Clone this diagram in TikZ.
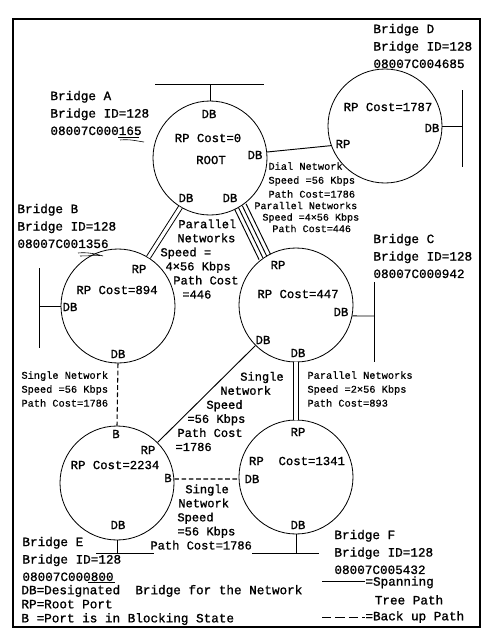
\documentclass[tikz,border=0pt]{standalone}
\usepackage{fontspec}
\newfontfamily\typefont[FakeBold=1.1]{Liberation Mono}
\newfontfamily\smalltype[FakeBold=0.6]{Liberation Mono}
\usetikzlibrary{calc}

\tikzset{
  bridge/.style={circle, draw, line width=0.7pt, minimum size=3.42cm, inner sep=0pt},
  port/.style={font=\typefont\fontsize{10.5}{12}\selectfont, inner sep=0pt},
  idtext/.style={font=\typefont\fontsize{10.8}{14.9}\selectfont, align=left, anchor=west, inner sep=0pt},
  midtext/.style={font=\typefont\fontsize{10.3}{12}\selectfont, align=left, anchor=west, inner sep=0pt},
  linktext/.style={font=\smalltype\fontsize{8.8}{11.9}\selectfont, align=left, anchor=west, inner sep=0pt},
  backup/.style={line width=0.9pt, dash pattern=on 4pt off 2.2pt},
  penmark/.style={line width=0.5pt}
}

\begin{document}
\begin{tikzpicture}[x=0.03cm, y=-0.03cm, line width=0.8pt]
  \useasboundingbox (0,0) rectangle (485,634);
  \draw[line width=1.1pt] (13,19) rectangle (480,627);

  % bridges
  \node[bridge] (A) at (210,158) {};
  \node[bridge] (B) at (118,306) {};
  \node[bridge] (C) at (296,305) {};
  \node[bridge] (D) at (385,126) {};
  \node[bridge] (E) at (117,483) {};
  \node[bridge] (F) at (296,477) {};

  % ports
  \node[port] (A-db1) at (209,114) {DB};
  \node[port] (A-cost) at (208,138) {RP Cost=0};
  \node[port] (A-root) at (211,160) {ROOT};
  \node[port] (A-db2) at (255,155) {DB};
  \node[port] (A-db3) at (186,198) {DB};
  \node[port] (A-db4) at (230,198) {DB};
  \node[port] (D-cost) at (388,107) {RP Cost=1787};
  \node[port] (D-db) at (432,128) {DB};
  \node[port] (D-rp) at (343,144) {RP};
  \node[port] (B-rp) at (139,269) {RP};
  \node[port] (B-cost) at (117,290) {RP Cost=894};
  \node[port] (B-db1) at (70,307) {DB};
  \node[port] (B-db2) at (118,354) {DB};
  \node[port] (C-rp) at (278,265) {RP};
  \node[port] (C-cost) at (298,294) {RP Cost=447};
  \node[port] (C-db1) at (341,312) {DB};
  \node[port] (C-db2) at (263,340) {DB};
  \node[port] (C-db3) at (298,353) {DB};
  \node[port] (E-b1) at (116,434) {B};
  \node[port] (E-rp) at (148,450) {RP};
  \node[port] (E-cost) at (115,465) {RP Cost=2234};
  \node[port] (E-b2) at (168,478) {B};
  \node[port] (E-db) at (118,525) {DB};
  \node[port] (F-rp) at (298,432) {RP};
  \node[port] (F-cost) at (297,461) {RP\ \ Cost=1341};
  \node[port] (F-db1) at (252,479) {DB};
  \node[port] (F-db2) at (298,525) {DB};

  % bridge names
  \node[idtext] (A-id) at (50,113) {Bridge A\\Bridge ID=128\\08007C000165};
  \node[idtext] (B-id) at (17,226) {Bridge B\\Bridge ID=128\\08007C001356};
  \node[idtext] (C-id) at (373,256) {Bridge C\\Bridge ID=128\\08007C000942};
  \node[idtext] (D-id) at (373,46) {Bridge D\\Bridge ID=128\\08007C004685};
  \node[idtext] (E-id) at (22,559) {Bridge E\\Bridge ID=128\\08007C000800};
  \node[idtext] (F-id) at (334,552) {Bridge F\\Bridge ID=128\\08007C005432};
  \draw[penmark] (118,137.5) -- (139,137.5);
  \draw[penmark] (120,140) .. controls (130,139) and (137,141) .. (144,142);
  \draw[penmark] (78,253) .. controls (88,252) and (96,254) .. (103,256);
  \draw[penmark] (80,256) -- (100,255.5);
  \draw[penmark] (88,582) -- (115,582);

  % lans
  \coordinate (A-lan) at (210,84);
  \coordinate (B-lan) at (39,306);
  \coordinate (C-lan) at (374,316);
  \coordinate (D-lan) at (462,126);
  \coordinate (E-lan) at (117,553);
  \coordinate (F-lan) at (296,553);
  \draw (A.north) -- (A-lan);
  \draw (155,84) -- (264,84);
  \draw (B.west) -- (B-lan);
  \draw (39,268) -- (39,348);
  \draw (C.-11) -- (C-lan);
  \draw (374,282) -- (374,362);
  \draw (D.east) -- (D-lan);
  \draw (462,90) -- (462,167);
  \draw (E.south) -- (E-lan);
  \draw (96,553) -- (154,553);
  \draw (F.south) -- (F-lan);
  \draw (252,553) -- (319,553);

  % links
  \draw (A.6) -- (D.200);
  \draw[double, double distance=2.8pt] (A.239) -- (B.58);
  \draw ($(A.302)!5.4pt!90:(C.123)$) -- ($(C.123)!5.4pt!-90:(A.302)$);
  \draw ($(A.302)!1.8pt!90:(C.123)$) -- ($(C.123)!1.8pt!-90:(A.302)$);
  \draw ($(A.302)!-1.8pt!90:(C.123)$) -- ($(C.123)!-1.8pt!-90:(A.302)$);
  \draw ($(A.302)!-5.4pt!90:(C.123)$) -- ($(C.123)!-5.4pt!-90:(A.302)$);
  \draw[backup] (B.south) -- (E.north);
  \draw (C.225) -- (E.45);
  \draw[double, double distance=4.2pt] (C.south) -- (F.north);
  \draw[backup] (E.4) -- (F.182);

  % link labels
  \node[linktext] (AD-txt) at (268,180) {Dial Network\\Speed =56 Kbps\\Path Cost=1786};
  \node[linktext, font=\smalltype\fontsize{8.6}{9.8}\selectfont] (AC-txt) at (254,217)
    {Parallel Networks\\\hspace*{6.8pt}Speed =4×56 Kbps\\\hspace*{15.3pt}Path Cost=446};
  \node[midtext] (AB-txt) at (160,259)
    {\hspace*{15.3pt}Parallel\\\hspace*{14.5pt}Networks\\Speed =\\\hspace*{4.3pt}4×56 Kbps\\\hspace*{11pt}Path Cost\\\hspace*{18.7pt}=446};
  \node[linktext] (BE-txt) at (21,389) {Single Network\\Speed =56 Kbps\\Path Cost=1786};
  \node[linktext] (CF-txt) at (307,389) {Parallel Networks\\Speed =2×56 Kbps\\Path Cost=893};
  \node[midtext] (CE-txt) at (175,411.5)
    {\hspace*{55.3pt}Single\\\hspace*{38.3pt}Network\\\hspace*{26.4pt}Speed\\\hspace*{10.2pt}=56 Kbps\\\hspace*{1.7pt}Path Cost\\=1786};
  \node[midtext] (EF-txt) at (150,517)
    {\hspace*{29.8pt}Single\\\hspace*{23.8pt}Network\\\hspace*{23pt}Speed\\\hspace*{23pt}=56 Kbps\\Path Cost=1786};

  % key
  \node[idtext, font=\typefont\fontsize{10.8}{12}\selectfont] (key) at (21,605)
    {DB=Designated\ \ Bridge for the Network\\RP=Root Port\\B\ =Port is in Blocking State};
  \coordinate (tree1) at (322,581);
  \coordinate (tree2) at (365,581);
  \coordinate (back1) at (322,617);
  \coordinate (back2) at (365,617);
  \draw (tree1) -- (tree2);
  \draw[dash pattern=on 8pt off 3.5pt] (back1) -- (back2);
  \node[idtext, font=\typefont\fontsize{10.8}{16}\selectfont] (tree-txt) at (365,590.5) {=Spanning\\\hspace*{8pt}Tree Path};
  \node[idtext] (back-txt) at (365,617) {=Back up Path};
\end{tikzpicture}
\end{document}
